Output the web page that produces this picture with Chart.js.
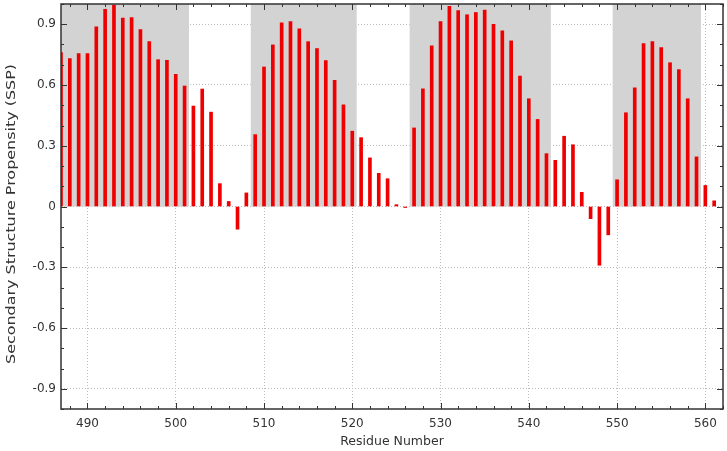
<!DOCTYPE html>
<html>
<head>
<meta charset="utf-8">
<script src="https://cdn.jsdelivr.net/npm/chart.js@4"></script>
<style>
  html, body { margin: 0; padding: 0; background: #fff; }
  #wrap { width: 727px; height: 451px; position: relative; }
</style>
</head>
<body>
<div id="wrap"><canvas id="sspChart"></canvas></div>
<script>
// Data
const residues = [];
for (let r = 487; r <= 561; r++) residues.push(r);
const sspValues = [
    0.76, 0.73, 0.755, 0.755, 0.887, 0.974, 0.994, 0.93, 0.933, 0.874,
    0.814, 0.725, 0.722, 0.653, 0.595, 0.496, 0.58, 0.466, 0.113, 0.025,
    -0.112, 0.067, 0.355, 0.689, 0.798, 0.907, 0.913, 0.877, 0.814, 0.78,
    0.72, 0.623, 0.502, 0.372, 0.34, 0.24, 0.164, 0.137, 0.009, -0.005,
    0.388, 0.581, 0.794, 0.913, 0.988, 0.968, 0.947, 0.958, 0.97, 0.9,
    0.867, 0.818, 0.644, 0.532, 0.43, 0.261, 0.228, 0.347, 0.305, 0.07,
    -0.06, -0.29, -0.14, 0.132, 0.463, 0.586, 0.804, 0.814, 0.785, 0.71,
    0.676, 0.532, 0.245, 0.104, 0.028
];
const xTickValues = [490, 500, 510, 520, 530, 540, 550, 560];
const yTickValues = [-0.9, -0.6, -0.3, 0, 0.3, 0.6, 0.9];
// helix regions (shaded)
const shadeStart = [486, 508.5, 526.5, 549.5];
const shadeEnd = [501.5, 520.5, 542.5, 559.5];
const yTitle = 'Secondary Structure Propensity (SSP)';

const FRAME = '#333';

// gray boxes behind the bars
const shadePlugin = {
    id: 'shade',
    beforeDatasetsDraw(chart) {
        const { ctx, chartArea, scales: { x, y } } = chart;
        ctx.save();
        ctx.beginPath();
        ctx.rect(chartArea.left, chartArea.top, chartArea.right - chartArea.left, chartArea.bottom - chartArea.top);
        ctx.clip();
        ctx.fillStyle = '#d3d3d3';
        for (let i = 0; i < shadeStart.length; i++) {
            const x0 = x.getPixelForValue(shadeStart[i]);
            const x1 = x.getPixelForValue(shadeEnd[i]);
            const y0 = y.getPixelForValue(1);
            const y1 = y.getPixelForValue(0);
            ctx.fillRect(x0, y0, x1 - x0, y1 - y0);
        }
        ctx.restore();
    }
};

// frame, inward ticks on all four sides, and the (stretched) y title
const framePlugin = {
    id: 'frame',
    afterDraw(chart) {
        const { ctx, chartArea: a, scales: { x, y } } = chart;
        ctx.save();
        ctx.strokeStyle = FRAME;
        ctx.lineWidth = 1;
        ctx.beginPath();
        for (let v = 488; v <= 562; v += 2) {
            const px = Math.round(x.getPixelForValue(v)) + 0.5;
            const len = v % 10 === 0 ? 6 : 3;
            ctx.moveTo(px, a.bottom); ctx.lineTo(px, a.bottom - len);
            ctx.moveTo(px, a.top); ctx.lineTo(px, a.top + len);
        }
        for (let k = -10; k <= 10; k++) {
            const v = k / 10;
            const py = Math.round(y.getPixelForValue(v)) + 0.5;
            const len = k % 3 === 0 ? 6 : 3;
            ctx.moveTo(a.left, py); ctx.lineTo(a.left + len, py);
            ctx.moveTo(a.right, py); ctx.lineTo(a.right - len, py);
        }
        ctx.stroke();
        ctx.lineWidth = 1.5;
        ctx.strokeRect(a.left, a.top, a.right - a.left, a.bottom - a.top);

        // y title: the original is a bit stretched along its length
        ctx.font = '12px "DejaVu Sans"';
        ctx.fillStyle = '#333';
        ctx.textAlign = 'center';
        ctx.textBaseline = 'middle';
        const w = ctx.measureText(yTitle).width;
        ctx.translate(12, 214);
        ctx.rotate(-Math.PI / 2);
        ctx.scale(300 / w, 1);
        ctx.fillText(yTitle, 0, 0);
        ctx.restore();
    }
};

new Chart(document.getElementById('sspChart'), {
    type: 'bar',
    data: {
        datasets: [{
            data: residues.map((r, i) => ({ x: r, y: sspValues[i] })),
            backgroundColor: '#ee0000',
            borderWidth: 0,
            barThickness: 3
        }]
    },
    options: {
        responsive: true,
        maintainAspectRatio: false,
        animation: false,
        layout: { padding: { top: 4, right: 4, left: 0, bottom: 0 } },
        plugins: {
            legend: { display: false },
            tooltip: { enabled: false }
        },
        scales: {
            x: {
                type: 'linear',
                min: 487,
                max: 562,
                offset: false,
                afterBuildTicks: s => { s.ticks = xTickValues.map(v => ({ value: v })); },
                ticks: {
                    color: '#333',
                    font: { family: 'DejaVu Sans', size: 12 },
                    padding: 8,
                    maxRotation: 0
                },
                grid: { color: '#bbbbbb', lineWidth: 1, drawTicks: false, offset: false },
                border: { display: false, dash: [1, 2] },
                title: {
                    display: true,
                    text: 'Residue Number',
                    color: '#333',
                    font: { family: 'DejaVu Sans', size: 12.5 },
                    padding: { top: 3, bottom: 2 }
                },
                afterFit: s => { s.height = 42; s.paddingLeft = 0; s.paddingRight = 0; }
            },
            y: {
                min: -1,
                max: 1,
                afterBuildTicks: s => { s.ticks = yTickValues.map(v => ({ value: v })); },
                ticks: {
                    color: '#333',
                    font: { family: 'DejaVu Sans', size: 12 },
                    padding: 5,
                    callback: v => (v === 0 ? '0' : v.toFixed(1))
                },
                grid: { color: '#bbbbbb', lineWidth: 1, drawTicks: false },
                border: { display: false, dash: [1, 2] },
                title: { display: false },
                afterFit: s => { s.width = 61; s.paddingTop = 0; s.paddingBottom = 0; }
            }
        }
    },
    plugins: [shadePlugin, framePlugin]
});
</script>
</body>
</html>
